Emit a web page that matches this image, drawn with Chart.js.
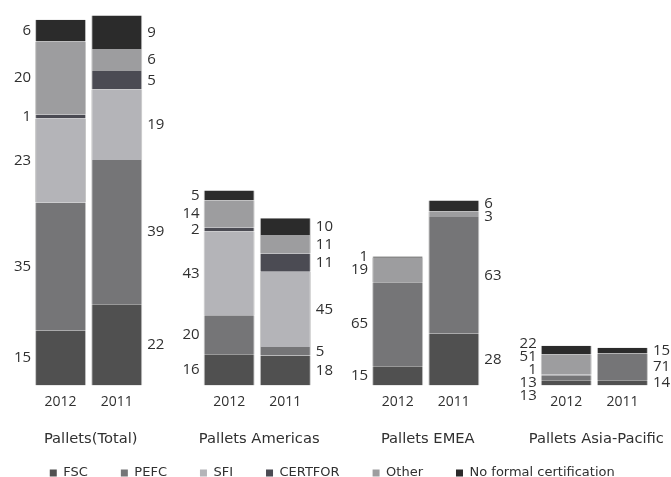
<!DOCTYPE html>
<html>
<head>
<meta charset="utf-8">
<script src="https://cdn.jsdelivr.net/npm/chart.js@4/dist/chart.umd.min.js"></script>
<style>
html,body{margin:0;padding:0;background:#ffffff;overflow:hidden;}
canvas{display:block;}
</style>
</head>
<body>
<canvas id="c" width="671" height="477"></canvas>
<script>
// ---- data ----
const regions = ['Pallets(Total)', 'Pallets Americas', 'Pallets EMEA', 'Pallets Asia-Pacific'];
const years = ['2012', '2011'];
const seriesNames = ['FSC', 'PEFC', 'SFI', 'CERTFOR', 'Other', 'No formal certification'];
// bar order: Total 2012, Total 2011, Americas 2012, Americas 2011, EMEA 2012, EMEA 2011, Asia-Pacific 2012, Asia-Pacific 2011
const fsc      = [15, 22, 16, 18, 15, 28, 13, 14];
const pefc     = [35, 39, 20,  5, 65, 63, 13, 71];
const sfi      = [23, 19, 43, 45,  0,  0,  1,  0];
const certfor  = [ 1,  5,  2, 11,  0,  0,  0,  0];
const other    = [20,  6, 14, 11, 19,  3, 51,  0];
const noFormal = [ 6,  9,  5, 10,  1,  6, 22, 15];
// relative volume of each bar (Pallets Total 2012 = 100)
const volume   = [100, 101.1, 53.3, 45.7, 35.3, 50.6, 10.9, 10.3];

const pctSeries = [fsc, pefc, sfi, certfor, other, noFormal];
const colors = ['#505050', '#757577', '#b4b4b8', '#4b4b53', '#9d9d9f', '#2b2b2b'];

// category slots: 2012, 2011, gap, 2012, 2011, gap, ...
const slotLabels = [];
const groupSlotLabels = [];
const slotOfBar = [];
regions.forEach((r, g) => {
  years.forEach((y, k) => {
    slotOfBar.push(slotLabels.length);
    slotLabels.push(y);
    groupSlotLabels.push(k === 0 ? r : '');
  });
  if (g < regions.length - 1) { slotLabels.push(''); groupSlotLabels.push(''); }
});

const datasets = seriesNames.map((name, s) => {
  const data = slotLabels.map(() => null);
  pctSeries[s].forEach((p, b) => { data[slotOfBar[b]] = p * volume[b] / 100; });
  return {
    label: name,
    data,
    backgroundColor: colors[s],
    borderColor: '#c4c4c4',
    borderWidth: {left: 1, right: 1, top: 0, bottom: 0},
    borderSkipped: false,
    barPercentage: 0.908,
    categoryPercentage: 1.0
  };
});

function spread(items, gap) {
  let clusters = items.map(it => ({items: [it], c: it.y}));
  let merged = true;
  while (merged) {
    merged = false;
    for (let k = 0; k < clusters.length - 1; k++) {
      const a = clusters[k], b = clusters[k + 1];
      const aEnd = a.c + (a.items.length - 1) / 2 * gap;
      const bStart = b.c - (b.items.length - 1) / 2 * gap;
      if (bStart - aEnd < gap) {
        const its = a.items.concat(b.items);
        const c = its.reduce((s, i) => s + i.y, 0) / its.length;
        clusters.splice(k, 2, {items: its, c});
        merged = true;
        break;
      }
    }
  }
  clusters.forEach(cl => cl.items.forEach((it, j) => { it.ly = cl.c + (j - (cl.items.length - 1) / 2) * gap; }));
}

const segLabels = {
  id: 'segLabels',
  afterDatasetsDraw(chart) {
    const ctx = chart.ctx;
    ctx.save();
    ctx.font = '15px "Open Sans"';
    ctx.fillStyle = '#303030';
    ctx.textBaseline = 'middle';
    for (let b = 0; b < slotOfBar.length; b++) {
      const slot = slotOfBar[b];
      const items = [];
      pctSeries.forEach((arr, s) => {
        if (!arr[b]) return;
        const el = chart.getDatasetMeta(s).data[slot];
        items.push({y: (el.y + el.base) / 2, text: String(arr[b]), el});
      });
      items.sort((p, q) => p.y - q.y);
      spread(items, 13);
      const left = (b % 2 === 0);
      items.forEach(it => {
        const el = it.el;
        if (left) {
          ctx.textAlign = 'right';
          ctx.fillText(it.text, el.x - el.width / 2 - 4, it.ly);
        } else {
          ctx.textAlign = 'left';
          ctx.fillText(it.text, el.x + el.width / 2 + 5, it.ly);
        }
      });
    }
    ctx.restore();
  }
};

const legendPlace = {
  id: 'legendPlace',
  afterLayout(chart) {
    const l = chart.legend;
    if (!l) return;
    l.top = 433.5;
    l.bottom = 477;
    l.height = l.bottom - l.top;
    l.left += 7;
    l.right += 7;
  }
};

const slotW = (650.5 - 32.5) / 11;

new Chart(document.getElementById('c'), {
  type: 'bar',
  data: {labels: slotLabels, datasets},
  plugins: [segLabels, legendPlace],
  options: {
    responsive: false,
    animation: false,
    devicePixelRatio: 1,
    layout: {padding: {top: 5, left: 0, right: 20.5, bottom: 16}},
    scales: {
      x: {
        type: 'category',
        stacked: true,
        offset: true,
        weight: 0,
        grid: {display: false, drawTicks: false},
        border: {display: false},
        ticks: {font: {family: 'Open Sans', size: 14}, color: '#303030', padding: 8, autoSkip: false, maxRotation: 0}
      },
      x2: {
        type: 'category',
        labels: groupSlotLabels,
        position: 'bottom',
        offset: true,
        weight: 1,
        grid: {display: false, drawTicks: false},
        border: {display: false},
        ticks: {font: {family: 'DejaVu Sans', size: 14.7}, color: '#303030', padding: 12, autoSkip: false, maxRotation: 0, minRotation: 0,
          labelOffset: slotW / 2 + 2}
      },
      y: {
        stacked: true,
        min: 0,
        max: 104,
        position: 'left',
        grid: {display: false, drawTicks: false},
        border: {display: false},
        ticks: {display: false},
        afterFit(scale) { scale.width = 32.5; }
      }
    },
    plugins: {
      tooltip: {enabled: false},
      legend: {
        position: 'bottom',
        maxHeight: 1,
        labels: {
          boxWidth: 7, boxHeight: 7, padding: 33,
          font: {family: 'DejaVu Sans', size: 13}, color: '#303030',
          generateLabels(chart) {
            const items = Chart.defaults.plugins.legend.labels.generateLabels(chart);
            items.forEach(i => { i.lineWidth = 0; i.strokeStyle = 'rgba(0,0,0,0)'; });
            return items;
          }
        }
      }
    }
  }
});
</script>
</body>
</html>
